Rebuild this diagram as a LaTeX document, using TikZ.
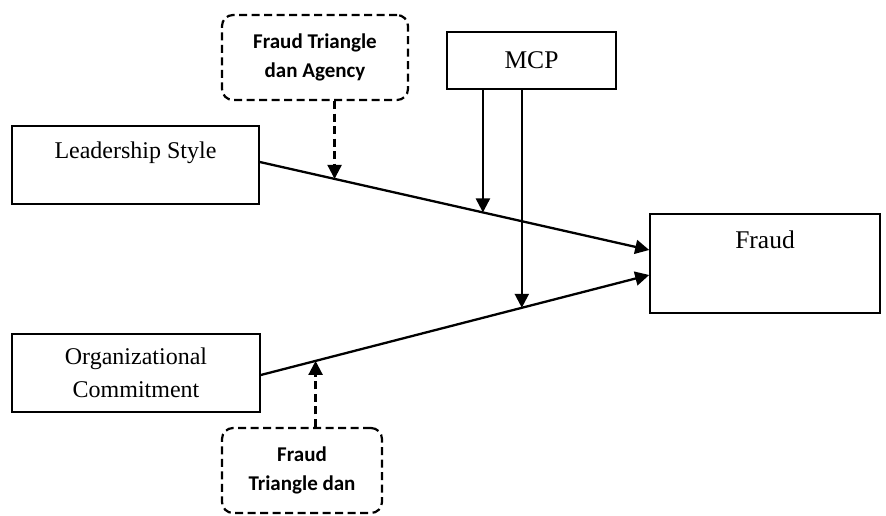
\documentclass[tikz,border=0pt]{standalone}
\usepackage{fontspec}
\setmainfont{Liberation Serif}
\newfontfamily\calfont{Carlito}
\usetikzlibrary{arrows.meta}
\begin{document}
\begin{tikzpicture}[x=1pt,y=-1pt,
  solidbox/.style={draw, line width=1.6pt, inner sep=0pt, align=center,
    font=\fontsize{24}{33}\selectfont},
  dashbox/.style={draw, line width=2.2pt, dash pattern=on 8pt off 4.5pt, rounded corners=11pt,
    inner sep=0pt, align=center, font=\calfont\bfseries\fontsize{21}{28.5}\selectfont},
  arr/.style={line width=2.3pt, -{Triangle[length=14pt,width=14pt]}},
  dasharr/.style={line width=2.3pt, dash pattern=on 8pt off 4.5pt, -{Triangle[length=14pt,width=14pt]}}
]
\useasboundingbox (0,0) rectangle (886,516);

\node[dashbox, minimum width=186pt, minimum height=85pt] (ft1) at (315,57.5) {Fraud Triangle\\dan Agency};
\node[solidbox, minimum width=247pt, text height=32pt, text depth=46pt] (ls) at (135.5,165) {Leadership Style};
\node[solidbox, minimum width=248pt, minimum height=78pt] (oc) at (136,373) {Organizational\\Commitment};
\node[dashbox, minimum width=160pt, minimum height=85pt] (ft2) at (302,470.5) {Fraud\\Triangle dan};
\node[solidbox, minimum width=169pt, minimum height=57pt, font=\fontsize{25.5}{30}\selectfont] (mcp) at (531.5,60.5) {MCP};
\node[solidbox, minimum width=230pt, text height=34pt, text depth=65pt, font=\fontsize{25.5}{30}\selectfont] (fraud) at (765,263.5) {Fraud};

\draw[arr] ([yshift=3pt]ls.east) -- ([yshift=13.5pt]fraud.west)
  coordinate[pos=0.192] (p0) coordinate[pos=0.573] (p1);
\draw[arr] ([yshift=-2pt]oc.east) -- ([yshift=-11.5pt]fraud.west)
  coordinate[pos=0.141] (q0) coordinate[pos=0.672] (q1);

\draw[arr] (mcp.south -| p1) -- (p1);
\draw[arr] (mcp.south -| q1) -- (q1);
\draw[dasharr] (ft1.south -| p0) -- (p0);
\draw[dasharr] (ft2.north -| q0) -- (q0);
\end{tikzpicture}
\end{document}
